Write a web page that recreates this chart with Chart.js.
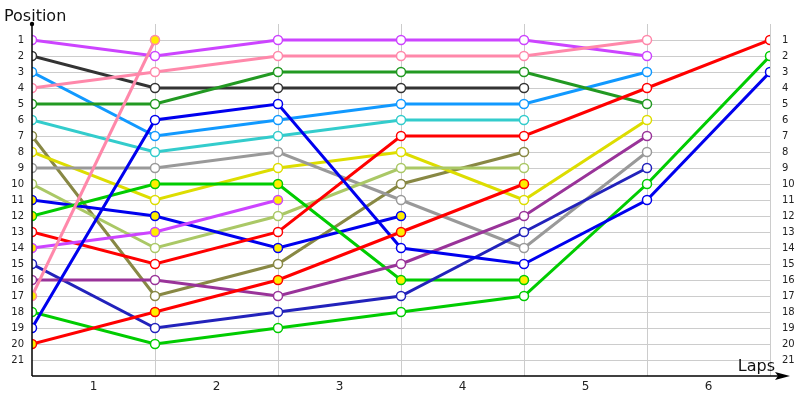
<!DOCTYPE html>
<html><head><meta charset="utf-8">
<script src="https://cdn.jsdelivr.net/npm/chart.js@4"></script>
<style>body{margin:0;background:#fff}#w{width:800px;height:400px}</style>
</head><body><div id="w"><canvas id="c"></canvas></div>
<script>
const laps = [0,1,2,3,4,5,6];
const lapLabels = ["1","2","3","4","5","6"];
const s1  = [1,2,1,1,1,2];
const s2  = [2,4,4,4,4];
const s3  = [3,7,6,5,5,3];
const s4  = [4,3,2,2,2,1];
const s5  = [5,5,3,3,3,5];
const s6  = [6,8,7,6,6];
const s7  = [7,17,15,10,8];
const s8  = [8,11,9,8,11,6];
const s9  = [9,9,8,11,14,8];
const s10 = [10,14,12,9,9];
const s11 = [11,12,14,12];
const s12 = [12,10,10,16,16];
const s13 = [13,15,13,7,7,4,1];
const s14 = [14,13,11];
const s15 = [15,19,18,17,13,9];
const s16 = [16,16,17,15,12,7];
const s17 = [17,1];
const s18 = [18,20,19,18,17,10,2];
const s19 = [19,6,5,14,15,11,3];
const s20 = [20,18,16,13,10];
const series = [s1,s2,s3,s4,s5,s6,s7,s8,s9,s10,s11,s12,s13,s14,s15,s16,s17,s18,s19,s20];
const colors = ["#cc44ff","#333333","#1199ff","#ff88aa","#229922","#33cccc","#888844","#dddd00","#999999","#aac866",
                "#0000ee","#00cc00","#ff0000","#cc44ff","#2222bb","#993399","#ff88aa","#00cc00","#0000ee","#ff0000"];
// laps (indices) with yellow markers per series
const pits = {10:[0,1,2,3],11:[0,1,2,3,4],13:[0,1,2],16:[0,1],19:[0,1,2,3,4]};

const datasets = series.map((s,i)=>({
  data: s.map((v,j)=>({x:laps[j],y:v})),
  borderColor: colors[i], borderWidth: 3,
  pointRadius: 4.5, pointBorderWidth: 1.5, pointBorderColor: colors[i],
  pointBackgroundColor: s.map((v,j)=> (pits[i]||[]).includes(j) ? "#ffee00" : "#ffffff"),
  tension: 0, order: 20-i
}));

const deco = {
  id:'deco',
  afterDraw(ch){
    const c = ch.ctx, a = ch.chartArea;
    c.save();
    c.strokeStyle='#000'; c.fillStyle='#000'; c.lineWidth=1.5;
    c.beginPath(); c.moveTo(a.left,a.bottom); c.lineTo(a.left,a.top); c.stroke();
    c.beginPath(); c.arc(a.left,a.top,2.2,0,Math.PI*2); c.fill();
    c.beginPath(); c.moveTo(a.left,a.bottom); c.lineTo(783,a.bottom); c.stroke();
    c.beginPath(); c.moveTo(790,a.bottom); c.lineTo(775,a.bottom-4); c.lineTo(778,a.bottom); c.lineTo(775,a.bottom+4); c.closePath(); c.fill();
    c.font='16px "DejaVu Sans", Verdana, sans-serif'; c.fillStyle='#111';
    c.textBaseline='alphabetic'; c.textAlign='left';
    c.fillText('Position',4,21);
    c.textAlign='right'; c.fillText('Laps',775,371);
    c.restore();
  }
};

new Chart(document.getElementById('c'),{
  type:'line',
  data:{datasets},
  plugins:[deco],
  options:{
    responsive:true, maintainAspectRatio:false, animation:false,
    layout:{padding:{top:24,left:0,right:0,bottom:0}},
    plugins:{legend:{display:false},tooltip:{enabled:false}},
    scales:{
      x:{type:'linear',min:0,max:6,
        afterFit(s){s.height=24;},
        afterBuildTicks(s){s.ticks=[];for(let k=0;k<=12;k++)s.ticks.push({value:k/2});},
        ticks:{autoSkip:false,maxRotation:0,padding:4,color:'#222',font:{size:12,family:'DejaVu Sans'},
          callback:(v)=> (v%1===0.5)? lapLabels[Math.floor(v)] : ''},
        grid:{drawTicks:false,color:(ctx)=>{const v=ctx.tick&&ctx.tick.value;return (v%1===0&&v>0&&v<=6)?'#cccccc':'rgba(0,0,0,0)';}},
        border:{display:false}},
      y:{type:'linear',reverse:true,min:0,max:22,position:'left',
        afterFit(s){s.width=32;},
        afterBuildTicks(s){s.ticks=[];for(let k=0;k<=22;k++)s.ticks.push({value:k});},
        ticks:{autoSkip:false,color:'#222',padding:8,font:{size:10,family:'DejaVu Sans'},
          callback:(v)=>(v>=1&&v<=21)?String(v):''},
        grid:{drawTicks:false,color:(ctx)=>{const v=ctx.tick&&ctx.tick.value;return (v>=1&&v<=21)?'#cccccc':'rgba(0,0,0,0)';}},
        border:{display:false}},
      y2:{type:'linear',reverse:true,min:0,max:22,position:'right',
        afterFit(s){s.width=30;},
        afterBuildTicks(s){s.ticks=[];for(let k=0;k<=22;k++)s.ticks.push({value:k});},
        ticks:{autoSkip:false,color:'#222',padding:4,font:{size:10,family:'DejaVu Sans'},
          callback:(v)=>(v>=1&&v<=21)?String(v):''},
        grid:{display:false},
        border:{display:false}}
    }
  }
});
</script></body></html>
